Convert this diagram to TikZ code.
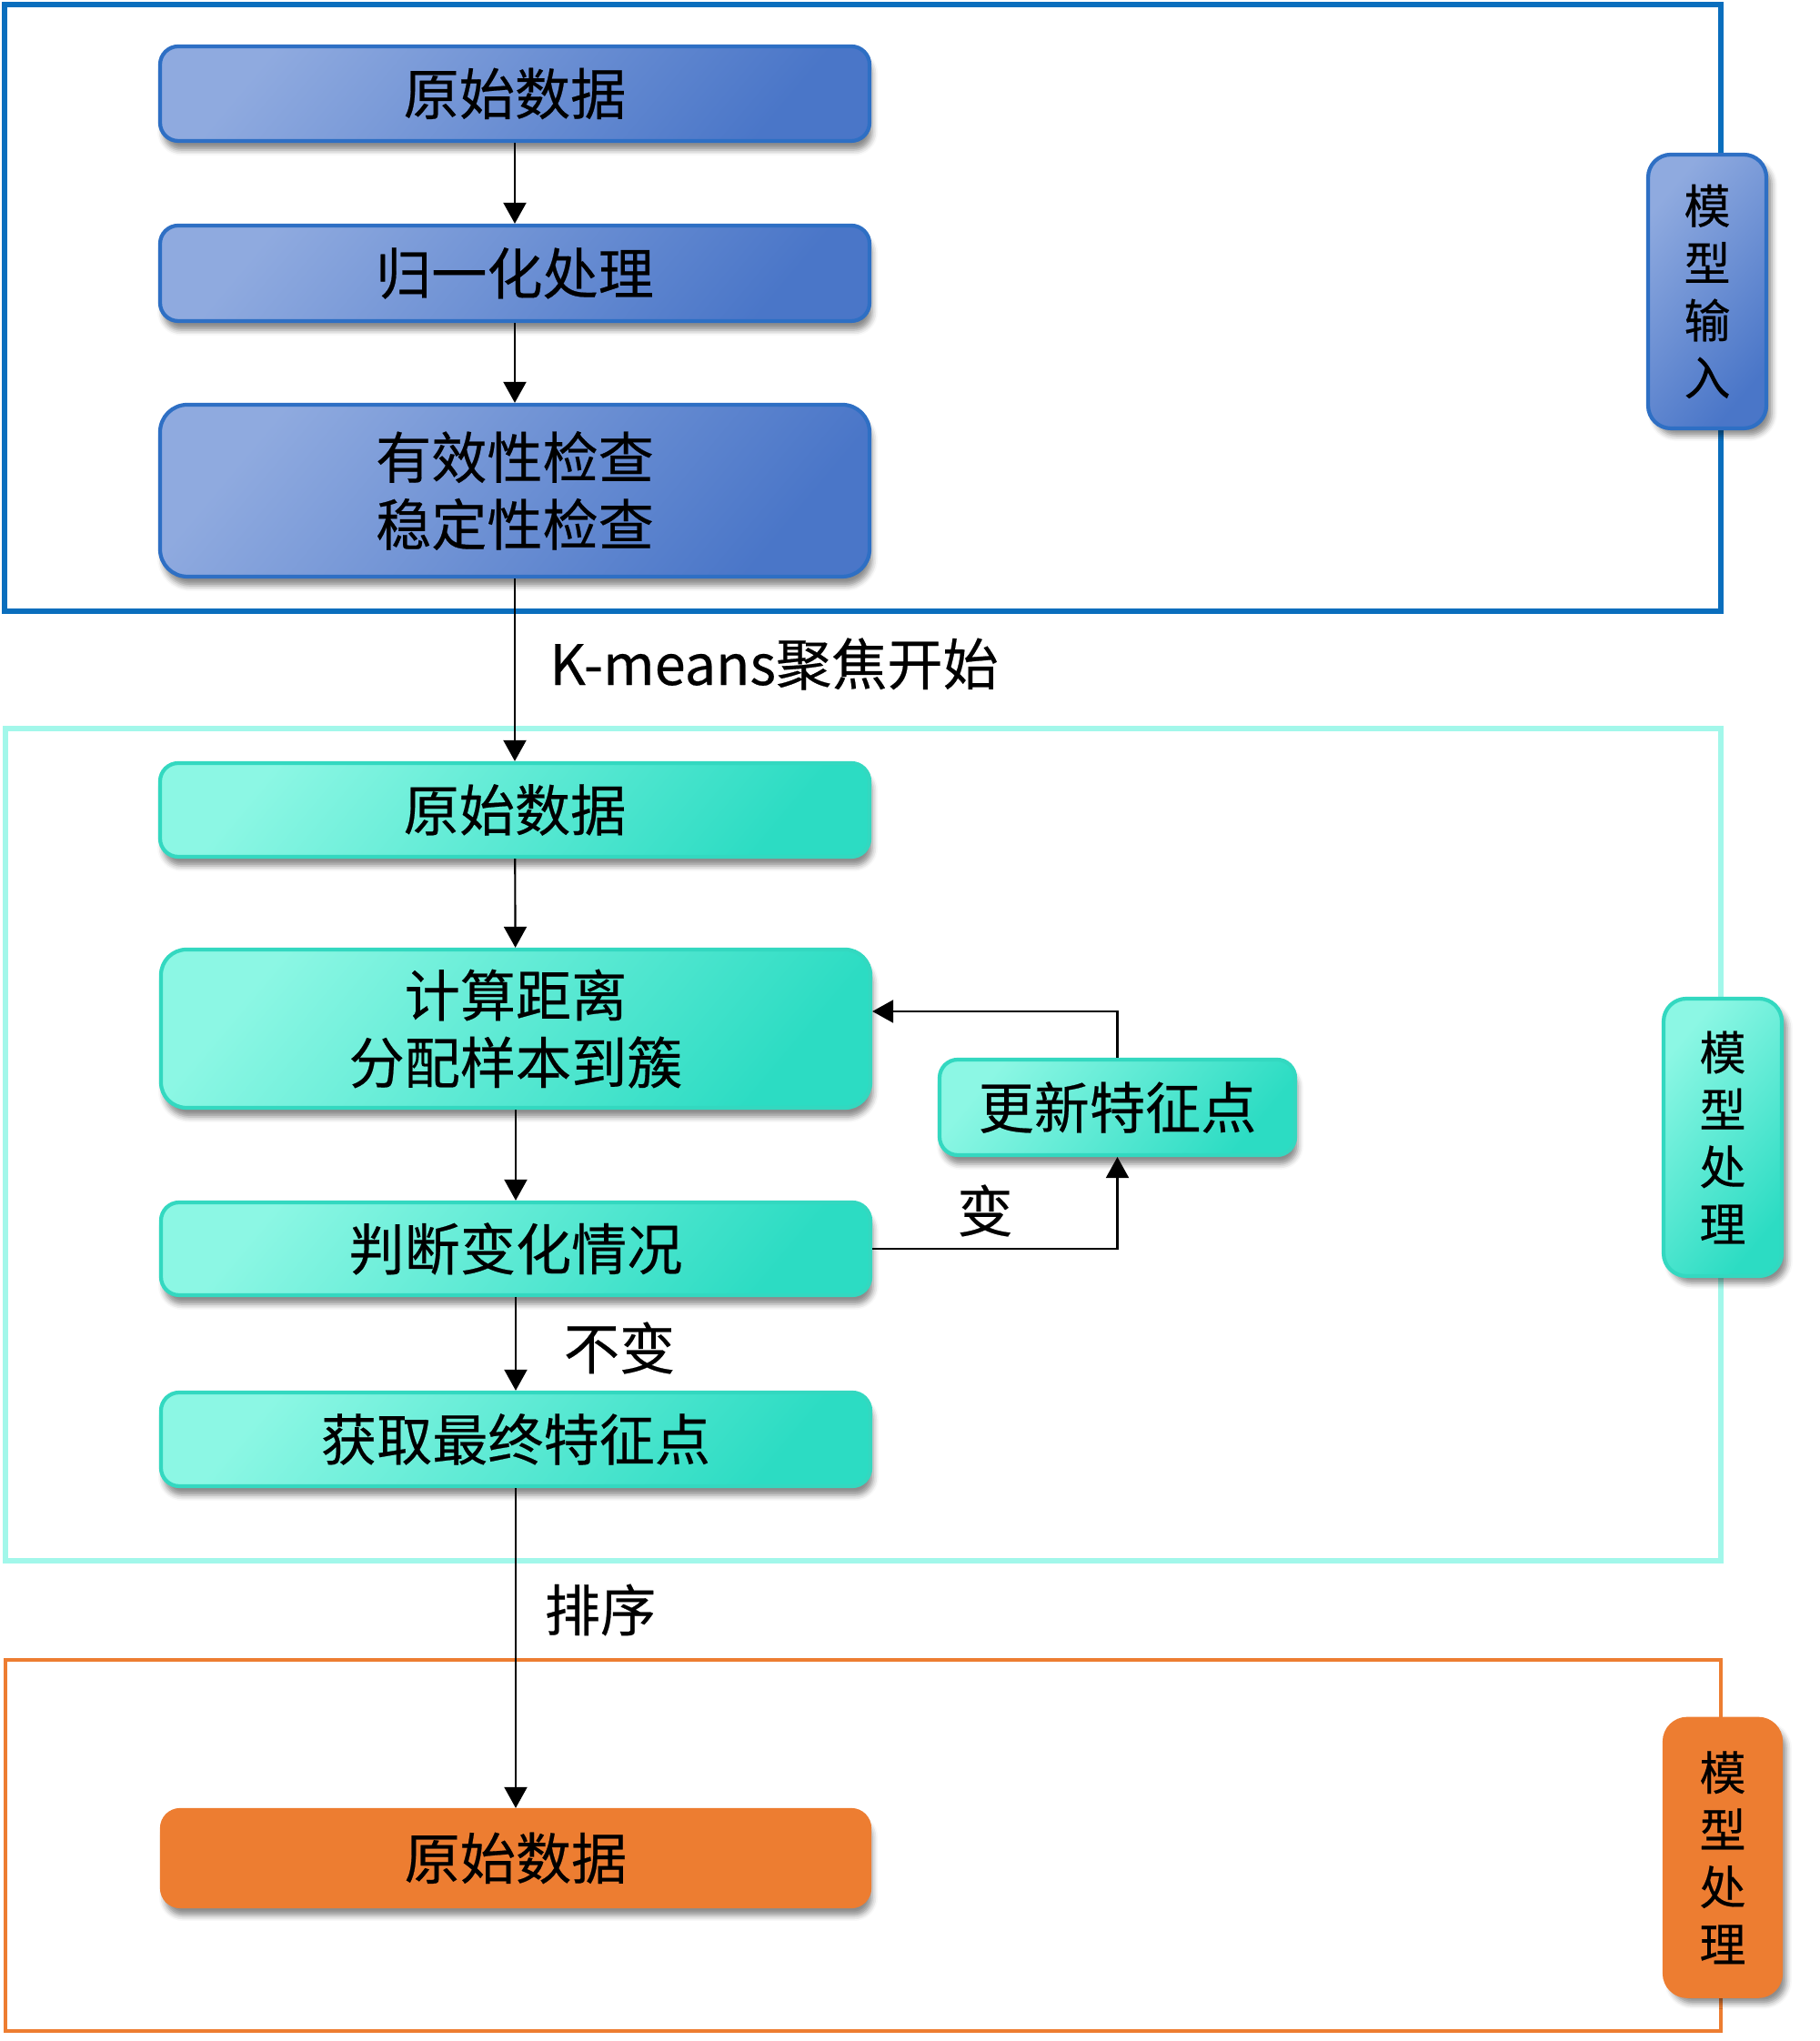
\documentclass[tikz,border=0pt]{standalone}
\usepackage{fontspec}
\setmainfont{Noto Sans CJK SC}[FakeBold=0.35]
\usetikzlibrary{arrows.meta,shadows.blur}

\definecolor{bleuclair}{HTML}{8FAADF}
\definecolor{bleufonce}{HTML}{4A76C8}
\definecolor{bleubord}{HTML}{2E6FC4}
\definecolor{bleucadre}{HTML}{0A6EBD}
\definecolor{turqclair}{HTML}{8CF7E4}
\definecolor{turqfonce}{HTML}{2CDCC3}
\definecolor{turqbord}{HTML}{33D8C0}
\definecolor{turqcadre}{HTML}{A2F7EA}
\definecolor{orange}{HTML}{ED7D31}

\begin{document}
\begin{tikzpicture}[
       thick,
       bloc/.style={
         rectangle,
         rounded corners=0.2cm,
         line width=1.2pt,
         minimum width=7.8cm,
         minimum height=1.04cm,
         align=center,
         inner sep=2pt,
         font=\fontsize{17.4pt}{21pt}\selectfont,
         blur shadow={shadow xshift=0.03cm,shadow yshift=-0.1cm,
           shadow blur radius=0.06cm,shadow opacity=45}
       },
       entree/.style={bloc,draw=bleubord,top color=bleuclair,
         bottom color=bleufonce,shading angle=50},
       traite/.style={bloc,draw=turqbord,top color=turqclair,
         bottom color=turqfonce,shading angle=50},
       sortie/.style={bloc,draw=orange,fill=orange},
       onglet/.style={
         rectangle,
         rounded corners=0.25cm,
         line width=1.2pt,
         minimum width=1.3cm,
         minimum height=3.03cm,
         align=center,
         inner sep=0pt,
         font=\fontsize{14.5pt}{17.9pt}\selectfont,
         blur shadow={shadow xshift=0.06cm,shadow yshift=-0.08cm,
           shadow blur radius=0.06cm,shadow opacity=45}
       },
       cadre/.style={line width=1.7pt},
       fleche/.style={line width=0.6pt,-{Triangle[length=0.23cm,width=0.25cm]}},
       legende/.style={font=\fontsize{17.4pt}{21pt}\selectfont,inner sep=0pt}
     ]

       \useasboundingbox (0,0) rectangle (20,22.44);

       % cadres
       \draw[cadre,bleucadre] (0.05,22.39) rectangle (18.92,15.72);
       \draw[cadre,turqcadre] (0.06,14.43) rectangle (18.92,5.28);
       \draw[cadre,orange,line width=1.3pt] (0.06,4.19) rectangle (18.92,0.11);

       % modele entree
       \node (brut1) at (5.66,21.41) [entree] {原始数据};
       \node (norm) at (5.66,19.435) [entree,minimum height=1.05cm] {归一化处理};
       \node (verif) at (5.66,17.045) [entree,minimum height=1.89cm,rounded corners=0.3cm] {有效性检查\\稳定性检查};

       % modele traitement
       \node (brut2) at (5.66,13.535) [traite,minimum height=1.03cm] {原始数据};
       \node (dist) at (5.67,11.13) [traite,minimum height=1.74cm,rounded corners=0.28cm] {计算距离\\分配样本到簇};
       \node (juge) at (5.67,8.71) [traite,minimum height=1.02cm] {判断变化情况};
       \node (final) at (5.67,6.615) [traite,minimum height=1.03cm] {获取最终特征点};
       \node (maj) at (12.285,10.265) [traite,minimum width=3.91cm,minimum height=1.05cm] {更新特征点};

       % sortie
       \node (brut3) at (5.67,2.01) [sortie,minimum width=7.78cm,minimum height=1.06cm] {原始数据};

       % onglets
       \node (ong1) at (18.77,19.235) [onglet,draw=bleubord,top color=bleuclair,
         bottom color=bleufonce,shading angle=50,minimum height=3.01cm] {模\\型\\输\\入};
       \node (ong2) at (18.94,9.935) [onglet,draw=turqbord,top color=turqclair,
         bottom color=turqfonce,shading angle=50,minimum height=3.05cm] {模\\型\\处\\理};
       \node (ong3) at (18.94,2.0175) [onglet,draw=orange,fill=orange,
         minimum width=1.28cm,minimum height=3.05cm] {模\\型\\处\\理};

       % fleches
       \draw[fleche] (brut1) -- (norm);
       \draw[fleche] (norm) -- (verif);
       \draw[fleche] (verif) -- (brut2);
       \draw[fleche] (brut2) -- (dist);
       \draw[fleche] (dist) -- (juge);
       \draw[fleche] (juge) -- (final);
       \draw[fleche] (final) -- (brut3);

       \draw[fleche] (juge.east) -| (maj.south);
       \draw[fleche] (maj.north) |- ([yshift=0.19cm]dist.east);

       % legendes
       \node (kmeans) at (6.03,15.14) [legende,anchor=west] {K-means聚焦开始};
       \node (inchange) at (6.81,7.62) [legende] {不变};
       \node (change) at (10.83,9.13) [legende] {变};
       \node (tri) at (6.60,4.74) [legende] {排序};

\end{tikzpicture}
\end{document}
